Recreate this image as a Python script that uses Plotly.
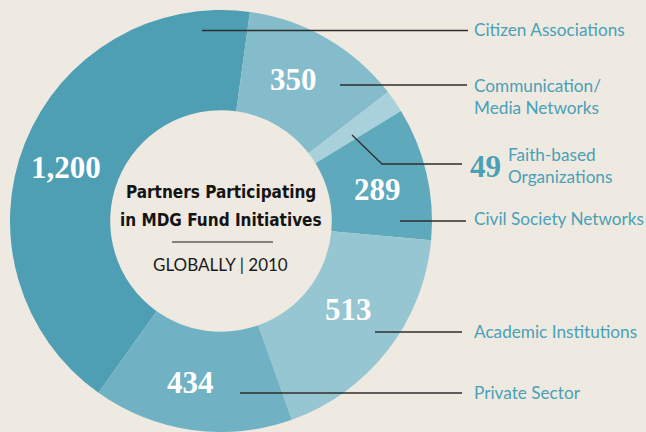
import plotly.graph_objects as go

W, H = 646, 432

categories = ["Citizen Associations", "Communication/<br>Media Networks", "Faith-based<br>Organizations",
              "Civil Society Networks", "Academic Institutions", "Private Sector"]
values = [1200, 350, 49, 289, 513, 434]
value_labels = ["1,200", "350", "49", "289", "513", "434"]
colors = ["#4e9fb4", "#84bccb", "#a9d1dc", "#5ea9bc", "#97c6d3", "#70b2c4"]
title_lines = ["Partners Participating", "in MDG Fund Initiatives"]
subtitle = "GLOBALLY | 2010"

BG = "#eeeae1"
TEAL = "#4aa0b6"
LINE = "#2e2e2e"

def px(x):
    return x / W

def py(y):
    return 1 - y / H

fig = go.Figure()
fig.add_trace(go.Pie(
    labels=categories, values=values, sort=False, direction="clockwise",
    rotation=215.5, hole=0.525, textinfo="none", hoverinfo="label+value",
    marker=dict(colors=colors, line=dict(width=0)),
    domain=dict(x=[px(10), px(432)], y=[0.0, py(10)]),
    showlegend=False,
))

annotations = []
shapes = []

SERIF = "Liberation Serif"
SANS = "Lato"

# value labels inside slices
val_pos = {0: (66, 168), 1: (293, 80), 3: (377, 189), 4: (348, 309), 5: (190, 382)}
for i, (x, y) in val_pos.items():
    annotations.append(dict(x=px(x), y=py(y), xref="paper", yref="paper", text="<b>" + value_labels[i] + "</b>",
                            showarrow=False, xanchor="center", yanchor="middle",
                            font=dict(family=SERIF, size=31, color="white")))

# leader lines and category labels
leaders = [
    (0, [(202, 30.5), (468, 30.5)], 29),
    (1, [(340, 85), (467, 85)], 96),
    (3, [(400, 221), (466, 221)], 218),
    (4, [(375, 332), (462, 332)], 331),
    (5, [(240, 393), (462, 393)], 392),
]
for i, pts, ly in leaders:
    (x0, y0), (x1, y1) = pts
    shapes.append(dict(type="line", xref="paper", yref="paper", x0=px(x0), y0=py(y0), x1=px(x1), y1=py(y1),
                       line=dict(color=LINE, width=1.3)))
    annotations.append(dict(x=px(472), y=py(ly), xref="paper", yref="paper", text=categories[i],
                            showarrow=False, xanchor="left", yanchor="middle", align="left",
                            font=dict(family=SANS, size=17.2, color=TEAL)))

# faith-based: bent leader
shapes.append(dict(type="path", xref="paper", yref="paper",
                   path=f"M {px(352)},{py(135)} L {px(382)},{py(164)} L {px(462)},{py(164)}",
                   line=dict(color=LINE, width=1.3)))
annotations.append(dict(x=px(485.5), y=py(166), xref="paper", yref="paper", text="<b>" + value_labels[2] + "</b>",
                        showarrow=False, xanchor="center", yanchor="middle",
                        font=dict(family=SERIF, size=31, color=TEAL)))
annotations.append(dict(x=px(506), y=py(165), xref="paper", yref="paper", text=categories[2],
                        showarrow=False, xanchor="left", yanchor="middle", align="left",
                        font=dict(family=SANS, size=17.2, color=TEAL)))

# center title
for txt, y in zip(title_lines, [192, 220]):
    annotations.append(dict(x=px(221), y=py(y), xref="paper", yref="paper",
                            text="<b>" + txt + "</b>",
                            showarrow=False, xanchor="center", yanchor="middle",
                            font=dict(family="DejaVu Sans Condensed, Roboto", size=17, color="#141414")))
shapes.append(dict(type="line", xref="paper", yref="paper", x0=px(172), y0=py(242), x1=px(273), y1=py(242),
                   line=dict(color="#1a1a1a", width=1.2)))
annotations.append(dict(x=px(220), y=py(264), xref="paper", yref="paper", text=subtitle,
                        showarrow=False, xanchor="center", yanchor="middle",
                        font=dict(family=SANS, size=17, color="#1a1a1a")))

fig.update_layout(
    width=W, height=H, margin=dict(l=0, r=0, t=0, b=0),
    paper_bgcolor=BG, plot_bgcolor=BG,
    annotations=annotations, shapes=shapes,
)
fig.write_html("out.html")
